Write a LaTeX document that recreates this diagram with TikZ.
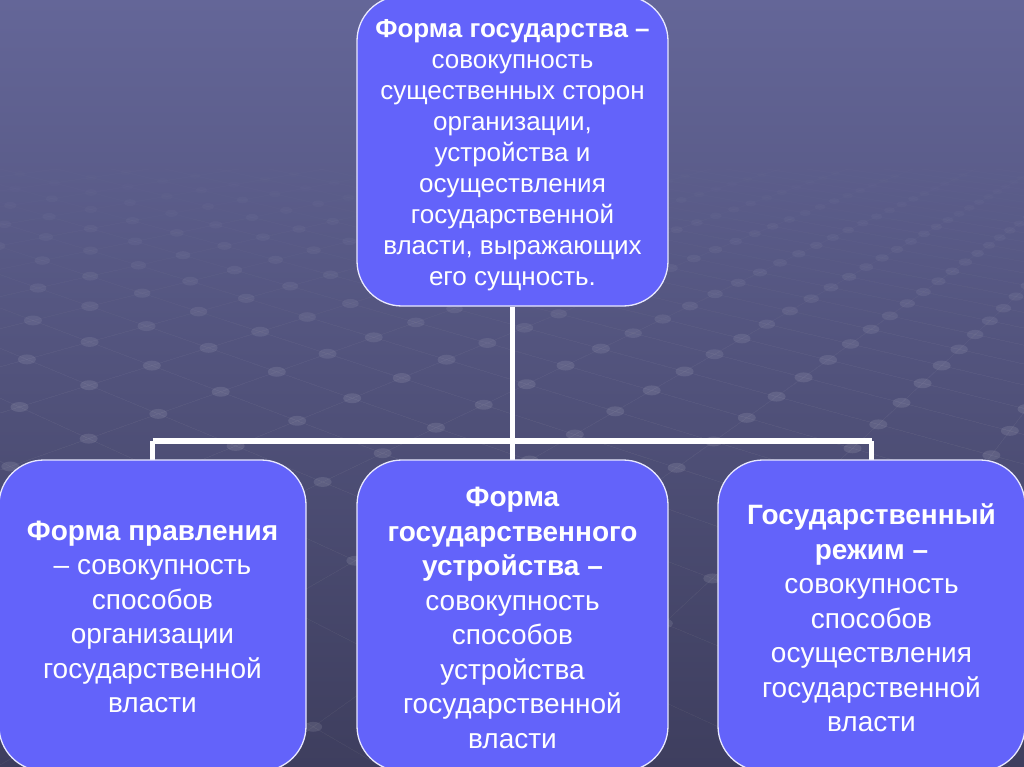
\documentclass[tikz,border=0pt]{standalone}
\usepackage{fontspec}
\setmainfont{Liberation Sans}
\usetikzlibrary{calc}
\definecolor{bgtop}{RGB}{100,102,152}
\definecolor{bgbot}{RGB}{62,62,94}
\definecolor{boxfill}{RGB}{99,99,250}
\definecolor{boxline}{RGB}{232,232,255}
\tikzset{
  box/.style={draw=boxline, line width=1.3pt, fill=boxfill, rounded corners=45pt, inner sep=0pt},
  boxtext/.style={text=white, align=center, inner sep=0pt},
  topfont/.style={font=\fontsize{26}{31}\selectfont},
  botfont/.style={font=\fontsize{28}{34.5}\selectfont},
  conn/.style={draw=white, line width=5.5pt, line join=miter},
  gridline/.style={draw=white, draw opacity=0.012, line width=1pt}
}
\def\gSa{0.025}\def\gSb{0.025}
\def\gVax{-1156}\def\gVay{-131}\def\gVbx{1343}\def\gVby{-7}\def\gOx{560}\def\gOy{170}
\newcommand\gridproj[2]{%
 \edef\gD{\fpeval{1+\gSa*(#1)+\gSb*(#2)}}%
 \edef\gX{\fpeval{round((\gSa*\gVax*(#1)+\gSb*\gVbx*(#2)+\gOx)/\gD,2)}}%
 \edef\gY{\fpeval{round((\gSa*\gVay*(#1)+\gSb*\gVby*(#2)+\gOy)/\gD,2)}}}
\newcommand\gridray[2]{% ray from vanishing point (#1,#2) through (\gX,\gY)
 \edef\gDx{\fpeval{\gX-(#1)}}%
 \edef\gDy{\fpeval{\gY-(#2)}}%
 \edef\gM{\fpeval{max(abs(\gDx),abs(\gDy))}}%
 \edef\gEx{\fpeval{round((#1)+3000*\gDx/\gM,2)}}%
 \edef\gEy{\fpeval{round((#2)+3000*\gDy/\gM,2)}}%
 \draw[gridline] (#1,#2) -- (\gEx,\gEy);}
\newcommand\gridlines{%
 \foreach \gc in {-45,...,25}{%
   \gridproj{-20-(\gc)}{\gc}%
   \gridray{\gVax}{\gVay}%
 }%
 \foreach \gc in {-45,...,25}{%
   \gridproj{\gc}{-20-(\gc)}%
   \gridray{\gVbx}{\gVby}%
 }}
\begin{document}
\begin{tikzpicture}[x=1pt,y=-1pt]
\useasboundingbox (0,0) rectangle (1024,767);
\shade[top color=bgtop, bottom color=bgbot] (0,0) rectangle (1024,767);
% faint perspective grid of the background, fading out towards the top
\foreach \gb in {170,220,270,320}{%
  \begin{scope}
  \clip (0,\gb) rectangle (1024,767);
  \gridlines
  \end{scope}
}
\begin{scope}
\clip (0,150) rectangle (1024,767);
\foreach \gu in {-40,...,25}{%
  \foreach \gv in {-40,...,25}{%
    \ifnum\numexpr\gu+\gv\relax>-31 \ifnum\numexpr\gu+\gv\relax<6
      \gridproj{\gu}{\gv}%
      \ifnum\fpeval{(\gX>-20 && \gX<1044 && \gY>150 && \gY<790) ? 1 : 0}=1
        \edef\gA{\fpeval{round(0.10*max(0,min(1,(\gY-160)/220)),3)}}%
        \edef\gR{\fpeval{round(min(9,5/\gD),2)}}%
        \edef\gRy{\fpeval{round(0.55*\gR,2)}}%
        \fill[white, fill opacity=\gA] (\gX,\gY) ellipse [x radius=\gR, y radius=\gRy];\fi
    \fi\fi
  }%
}
\end{scope}
% boxes
\node[box, minimum width=311pt, minimum height=310pt] (top) at (512.5,151) {};
\node[boxtext, topfont] (toptext) at (512.5,155.5)
 {\textbf{Форма государства –}\\совокупность\\существенных сторон\\организации,\\устройства и\\осуществления\\государственной\\власти, выражающих\\его сущность.};
\coordinate (j) at (512.5,441);
\coordinate (leftc) at (152.5,615.5);
\coordinate (midc) at (512.5,615.5);
\coordinate (rightc) at (871.5,615.5);
\draw[conn] (top.south) -- (j);
\draw[conn] (leftc |- j) -- (rightc |- j);
\draw[conn] (leftc |- j) -- (leftc);
\draw[conn] (j) -- (midc);
\draw[conn] (rightc |- j) -- (rightc);
\node[box, minimum width=307pt, minimum height=311pt] (left) at (leftc) {};
\node[box, minimum width=311pt, minimum height=311pt] (mid) at (midc) {};
\node[box, minimum width=307pt, minimum height=311pt] (right) at (rightc) {};
\node[boxtext, botfont] (lefttext) at ($(left.center)+(0,1.5)$)
 {\textbf{Форма правления}\\– совокупность\\способов\\организации\\государственной\\власти};
\node[boxtext, botfont] (midtext) at ($(mid.center)+(0,2.5)$)
 {\textbf{Форма}\\\textbf{государственного}\\\textbf{устройства –}\\совокупность\\способов\\устройства\\государственной\\власти};
\node[boxtext, botfont] (righttext) at ($(right.center)+(0,2.5)$)
 {\textbf{Государственный}\\\textbf{режим –}\\совокупность\\способов\\осуществления\\государственной\\власти};
\end{tikzpicture}
\end{document}
